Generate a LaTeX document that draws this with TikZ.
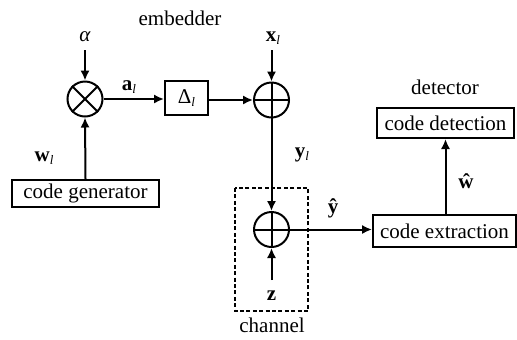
\documentclass[tikz,border=0pt]{standalone}
\usepackage{fontspec}
\setmainfont{Liberation Serif}
\usetikzlibrary{arrows.meta}
\newcommand{\subl}{\raisebox{-0.35ex}{\fontsize{6.5}{7}\selectfont\textit{l}}}
\begin{document}
\begin{tikzpicture}[x=0.5pt,y=-0.5pt,
  font=\fontsize{10.5}{12}\selectfont,
  line width=1pt,
  >={Latex[length=5pt,width=4.6pt]},
  sumnode/.style={circle,draw,minimum size=17.5pt,inner sep=0pt},
  blockbox/.style={draw,inner sep=0pt},
  lbl/.style={inner sep=0pt}]
\useasboundingbox (0,0) rectangle (517,339);
% nodes
\node[sumnode] (mult) at (85,99) {};
\draw (mult.north west) -- (mult.south east) (mult.north east) -- (mult.south west);
\node[sumnode] (add1) at (271.5,100) {};
\draw (add1.north) -- (add1.south) (add1.west) -- (add1.east);
\node[sumnode] (add2) at (271.5,229.5) {};
\draw (add2.north) -- (add2.south) (add2.west) -- (add2.east);
\node[blockbox,minimum width=21.5pt,minimum height=17pt] (delta) at (186.5,98) {Δ\subl};
\node[blockbox,minimum width=73.5pt,minimum height=13.5pt] (gen) at (85.5,193.5) {code generator};
\node[blockbox,minimum width=71.5pt,minimum height=16pt] (extr) at (444.5,231) {code extraction};
\node[blockbox,minimum width=68.5pt,minimum height=15pt] (det) at (445.5,123) {code detection};
\draw[dashed,line width=0.8pt,dash pattern=on 2pt off 1.2pt] (235,188) rectangle (308,311);
% labels
\node[lbl] (emb) at (180,18) {embedder};
\node[lbl] (detl) at (445,87) {detector};
\node[lbl] (chl) at (272,325) {channel};
\node[lbl] (alpha) at (85,37) {\textit{α}};
\node[lbl] (xl) at (273,38) {\textbf{x}\subl};
\node[lbl] (al) at (129,87) {\textbf{a}\subl};
\node[lbl] (wl) at (44,158) {\textbf{w}\subl};
\node[lbl] (yl) at (302,155) {\textbf{y}\subl};
\node[lbl] (z) at (271.5,296) {\textbf{z}};
\node[lbl] (yhat) at (333,208) {\textbf{ŷ}};
\node[lbl] (what) at (466,181) {\textbf{ŵ}};
\coordinate (alphaend) at (85,50);
\coordinate (xend) at (271.5,50);
\coordinate (zend) at (271.5,280);
% connectors
\draw[->] (alphaend) -- (mult.north);
\draw[->] (gen.north) -- (mult.south);
\draw[->] (mult.east) -- (delta.west |- mult.east);
\draw[->] (delta.east |- add1.west) -- (add1.west);
\draw[->] (xend) -- (add1.north);
\draw[->] (add1.south) -- (add2.north);
\draw[->] (zend) -- (add2.south);
\draw[->] (add2.east) -- (extr.west |- add2.east);
\draw[->] (extr.north -| det.south) -- (det.south);
\end{tikzpicture}
\end{document}
